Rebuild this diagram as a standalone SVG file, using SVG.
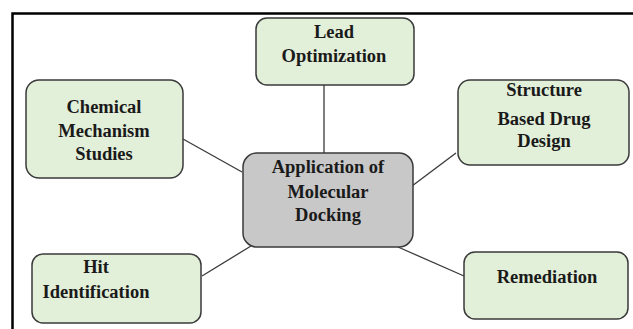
<svg xmlns="http://www.w3.org/2000/svg" width="633" height="329" viewBox="0 0 633 329">
<style>
.box{fill:#e2efd9;stroke:#3a3a3a;stroke-width:1.5}
.core{fill:#c8c8c8;stroke:#3a3a3a;stroke-width:1.5}
.t{font-family:"Liberation Serif","Times New Roman",serif;font-weight:bold;font-size:18.5px;fill:#1a1a1a;text-anchor:middle}
.c{stroke:#3a3a3a;stroke-width:1.3;fill:none}
</style>
<rect width="633" height="329" fill="#ffffff"/>
<rect x="12.5" y="13.5" width="640" height="340" fill="none" stroke="#000" stroke-width="2.5"/>
<g id="connectors">
<line class="c" x1="324" y1="85" x2="324" y2="153"/>
<line class="c" x1="183" y1="139" x2="242" y2="172"/>
<line class="c" x1="456" y1="153" x2="412" y2="186"/>
<line class="c" x1="202" y1="276" x2="251" y2="246"/>
<line class="c" x1="464" y1="276" x2="398" y2="247"/>
</g>
<g id="lead">
<rect class="box" x="256" y="18" width="158" height="67" rx="11"/>
<text class="t" x="334" y="38">Lead</text>
<text class="t" x="334" y="62">Optimization</text>
</g>
<g id="chemical">
<rect class="box" x="26" y="80" width="157" height="98" rx="13"/>
<text class="t" x="104" y="113">Chemical</text>
<text class="t" x="104" y="137">Mechanism</text>
<text class="t" x="104" y="160">Studies</text>
</g>
<g id="structure">
<rect class="box" x="458" y="80" width="171" height="85" rx="12"/>
<text class="t" x="544" y="96">Structure</text>
<text class="t" x="544" y="125">Based Drug</text>
<text class="t" x="544" y="147">Design</text>
</g>
<g id="center">
<rect class="core" x="243" y="153" width="170" height="94" rx="14"/>
<text class="t" x="328" y="173">Application of</text>
<text class="t" x="328" y="198">Molecular</text>
<text class="t" x="328" y="221">Docking</text>
</g>
<g id="hit">
<rect class="box" x="32" y="254" width="169" height="69" rx="11"/>
<text class="t" x="96" y="273">Hit</text>
<text class="t" x="96" y="298">Identification</text>
</g>
<g id="remediation">
<rect class="box" x="464" y="252" width="164" height="67" rx="11"/>
<text class="t" x="547" y="283">Remediation</text>
</g>
</svg>
